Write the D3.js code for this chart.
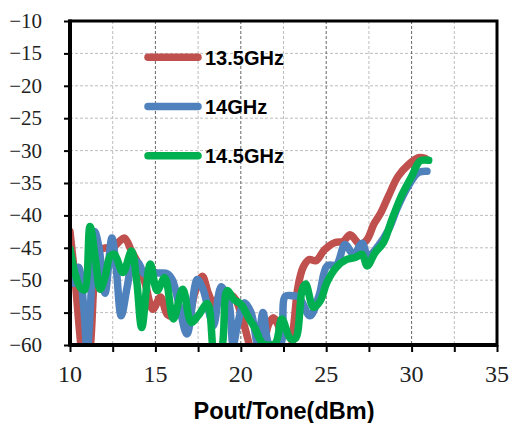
<!DOCTYPE html>
<html>
<head>
<meta charset="utf-8">
<script src="https://cdn.jsdelivr.net/npm/d3@7"></script>
<style>
    body { margin: 0; background: #fff; }
    .tick-label { font-family: "Liberation Serif", "DejaVu Serif", serif; fill: #222; }
    .bold-text { font-family: "Liberation Sans", Arial, sans-serif; font-weight: bold; fill: #000; }
</style>
</head>
<body>
<div id="chart-container"></div>
<script>
(function () {
    'use strict';

    // series names
    var seriesNames = ['13.5GHz', '14GHz', '14.5GHz'];

    // 13.5GHz
    var redX = [10.0, 10.3, 10.6, 10.9, 11.2, 11.45, 11.7, 12.1, 12.5, 12.9, 13.2, 13.6, 14.0, 14.4, 14.85,
        15.3, 15.7, 16.1, 16.5, 16.9, 17.3, 17.75, 18.1, 18.45, 18.9, 19.3, 19.7, 20.1, 20.5, 20.8,
        21.2, 21.6, 21.9, 22.2, 22.5, 22.8, 23.1, 23.35, 23.65, 24.0, 24.4, 24.9, 25.5, 26.0, 26.4,
        27.0, 27.4, 27.8, 28.2, 28.65, 29.2, 29.8, 30.4, 30.8];
    var redY = [-42.5, -50, -59, -66, -60, -49, -45.5, -45, -45, -44, -43.5, -45.5, -47.5, -50.5, -54.5,
        -52.6, -55.3, -55.5, -54.5, -56, -52, -49.4, -52, -53.8, -51.6, -52, -53, -56, -60, -63,
        -62, -57, -55.8, -57, -62, -63, -57, -51, -48, -46.8, -47, -45.3, -44.2, -44, -43,
        -44.5, -43.7, -41.3, -39.6, -37, -34, -32.2, -31.1, -31.2];

    // 14GHz
    var blueX = [10.0, 10.2, 10.5, 10.8, 11.0, 11.2, 11.45, 11.7, 12.05, 12.45, 12.7, 13.0, 13.35, 13.7, 14.0,
        14.35, 14.7, 15.2, 15.7, 16.0, 16.4, 16.85, 17.45, 17.8, 18.1, 18.4, 18.85, 19.3, 19.55, 19.8,
        20.2, 20.6, 21.0, 21.3, 21.7, 22.3, 22.6, 23.0, 23.4, 24.05, 24.6, 25.05, 25.6, 26.1, 26.6,
        27.1, 27.45, 28.05, 28.65, 29.2, 29.8, 30.4, 30.9];
    var blueY = [-48, -50.5, -48, -54, -61, -54, -42.5, -45, -52, -43.5, -48, -55.5, -51, -47, -47.3,
        -49, -48.8, -48.9, -49, -50, -54, -58.3, -49.9, -51.5, -54.5, -57, -51, -53.5, -60, -57,
        -53.5, -55, -60, -55, -60, -60, -52.5, -52.4, -52.6, -55.5, -52.2, -47.8, -47.6, -44.5, -46,
        -44.3, -46.3, -44.7, -42.2, -38.6, -35.5, -33.4, -33.2];

    // 14.5GHz
    var greenX = [10.0, 10.3, 10.6, 10.85, 11.17, 11.5, 11.76, 12.05, 12.35, 12.6, 13.1, 13.6, 13.9, 14.2, 14.7,
        15.1, 15.55, 16.05, 16.6, 17.1, 17.5, 18.05, 18.5, 18.85, 19.2, 19.6, 20.0, 20.5, 20.85, 21.3,
        22.0, 22.4, 22.9, 23.2, 23.6, 23.8, 24.25, 24.65, 25.05, 25.6, 26.2, 26.7, 27.1, 27.4, 27.85,
        28.35, 28.85, 29.4, 30.0, 30.5, 31.0];
    var greenY = [-45.2, -49, -51.1, -51.5, -41.7, -47, -51.4, -49.5, -46.3, -46, -48.8, -45.5, -50, -57.3, -47.5,
        -51.6, -49.6, -56, -51.4, -56.5, -55.5, -53.6, -62, -61, -51.6, -53, -53.7, -56, -57.5, -59.8,
        -59.8, -56, -59, -59, -51.4, -50.6, -54.2, -53.2, -50.3, -48, -46.8, -46.5, -46, -47.8, -45.8,
        -44.2, -40.6, -37, -34, -31.6, -31.5];

    var xTicks = [10, 15, 20, 25, 30, 35];
    var xMinorTicks = [12.5, 17.5, 22.5, 27.5, 32.5];
    var yTicks = [-10, -15, -20, -25, -30, -35, -40, -45, -50, -55, -60];

    var colors = ['#C0504D', '#4F81BD', '#00B050'];

    var width = 513;
    var height = 423;
    var left = 70, right = 497, top = 21, bottom = 345;

    var x = d3.scaleLinear().domain([10, 35]).range([left, right]);
    var y = d3.scaleLinear().domain([-60, -10]).range([bottom, top]);

    var svg = d3.select('#chart-container')
        .append('svg')
        .attr('width', width)
        .attr('height', height);

    svg.append('defs').append('clipPath')
        .attr('id', 'plot-clip')
        .append('rect')
        .attr('x', left)
        .attr('y', top)
        .attr('width', right - left)
        .attr('height', bottom - top);

    // grid
    var grid = svg.append('g');
    grid.selectAll('.hgrid')
        .data(yTicks.slice(1, -1))
        .enter()
        .append('line')
        .attr('x1', left).attr('x2', right)
        .attr('y1', function (d) { return y(d); })
        .attr('y2', function (d) { return y(d); })
        .style('stroke', '#bdbdbd')
        .style('stroke-width', 1)
        .style('stroke-dasharray', '3,2');
    grid.selectAll('.vminor')
        .data(xMinorTicks)
        .enter()
        .append('line')
        .attr('y1', top).attr('y2', bottom)
        .attr('x1', function (d) { return x(d); })
        .attr('x2', function (d) { return x(d); })
        .style('stroke', '#bdbdbd')
        .style('stroke-width', 1)
        .style('stroke-dasharray', '3,2');
    grid.selectAll('.vmajor')
        .data(xTicks.slice(1, -1))
        .enter()
        .append('line')
        .attr('y1', top).attr('y2', bottom)
        .attr('x1', function (d) { return x(d); })
        .attr('x2', function (d) { return x(d); })
        .style('stroke', '#666')
        .style('stroke-width', 1)
        .style('stroke-dasharray', '3,2');

    // lines
    var line = d3.line()
        .x(function (d) { return x(d[0]); })
        .y(function (d) { return y(d[1]); })
        .curve(d3.curveCatmullRom.alpha(0.5));

    var series = [
        d3.zip(redX, redY),
        d3.zip(blueX, blueY),
        d3.zip(greenX, greenY)
    ];

    svg.append('g')
        .attr('clip-path', 'url(#plot-clip)')
        .selectAll('path')
        .data(series)
        .enter()
        .append('path')
        .attr('d', line)
        .style('fill', 'none')
        .style('stroke', function (d, i) { return colors[i]; })
        .style('stroke-width', 7.5)
        .style('stroke-linejoin', 'round')
        .style('stroke-linecap', 'round');

    // frame
    svg.append('rect')
        .attr('x', left).attr('y', top)
        .attr('width', right - left).attr('height', bottom - top)
        .style('fill', 'none')
        .style('stroke', '#000')
        .style('stroke-width', 3);
    svg.append('line')
        .attr('x1', left).attr('x2', left).attr('y1', top - 1.5).attr('y2', bottom + 1.5)
        .style('stroke', '#000').style('stroke-width', 4);
    svg.append('line')
        .attr('x1', left).attr('x2', right).attr('y1', bottom).attr('y2', bottom)
        .style('stroke', '#000').style('stroke-width', 4);

    // axes
    var xAxis = svg.append('g')
        .attr('transform', 'translate(0,' + bottom + ')')
        .call(d3.axisBottom(x).tickValues(xTicks.concat(xMinorTicks)).tickSize(7).tickFormat(''));
    xAxis.select('.domain').remove();
    xAxis.selectAll('line').style('stroke', '#000').style('stroke-width', 2);

    var yAxis = svg.append('g')
        .attr('transform', 'translate(' + left + ',0)')
        .call(d3.axisLeft(y).tickValues(yTicks).tickSize(6).tickFormat(''));
    yAxis.select('.domain').remove();
    yAxis.selectAll('line').style('stroke', '#000').style('stroke-width', 2);

    svg.selectAll('.xlab')
        .data(xTicks)
        .enter()
        .append('text')
        .attr('class', 'tick-label')
        .attr('x', function (d) { return x(d); })
        .attr('y', 382)
        .attr('text-anchor', 'middle')
        .style('font-size', '24px')
        .text(function (d) { return d; });

    svg.selectAll('.ylab')
        .data(yTicks)
        .enter()
        .append('text')
        .attr('class', 'tick-label')
        .attr('x', 42)
        .attr('y', function (d) { return y(d) + 7; })
        .attr('text-anchor', 'end')
        .style('font-size', '21px')
        .text(function (d) { return '\u2212' + Math.abs(d); });

    svg.append('text')
        .attr('class', 'bold-text')
        .attr('x', 284)
        .attr('y', 419)
        .attr('text-anchor', 'middle')
        .style('font-size', '23.5px')
        .text('Pout/Tone(dBm)');

    // legend
    var legendY = [-15.6, -23.2, -30.8];
    var legend = svg.append('g')
        .selectAll('g')
        .data(seriesNames)
        .enter()
        .append('g')
        .attr('transform', function (d, i) { return 'translate(0,' + y(legendY[i]) + ')'; });
    legend.append('line')
        .attr('x1', 148).attr('x2', 198)
        .style('stroke', function (d, i) { return colors[i]; })
        .style('stroke-width', 7.5)
        .style('stroke-linecap', 'round');
    legend.append('text')
        .attr('class', 'bold-text')
        .attr('x', 205)
        .attr('y', 7.5)
        .style('font-size', '20px')
        .text(function (d) { return d; });
}());
</script>
</body>
</html>
